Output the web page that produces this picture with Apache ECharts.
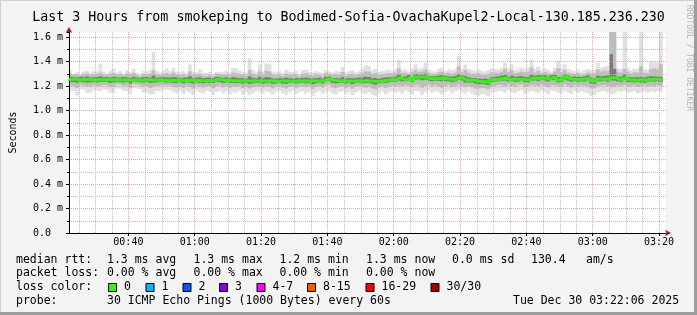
<!DOCTYPE html>
<html><head><meta charset="utf-8">
<script src="https://cdn.jsdelivr.net/npm/echarts@6/dist/echarts.min.js"></script>
<style>html,body{margin:0;padding:0;background:#f3f3f3}#c{width:697px;height:315px}</style>
</head><body><div id="c"></div><script>
// ---------- data (values in microseconds) ----------
const titleText = 'Last 3 Hours from smokeping to Bodimed-Sofia-OvachaKupel2-Local-130.185.236.230';
const axisMin = 22.1;   // 00:22:06 in minutes
const axisMax = 202.1;  // 03:22:06
const firstStep = 22;   // first one-minute sample
const median = [1256,1255,1252,1254,1253,1255,1252,1250,1253,1252,
 1251,1253,1250,1252,1251,1249,1252,1250,1248,1251,
 1250,1248,1250,1251,1249,1250,1247,1249,1248,1246,
 1247,1245,1248,1246,1244,1247,1245,1243,1246,1244,
 1242,1245,1243,1246,1256,1254,1246,1247,1245,1244,
 1243,1241,1244,1242,1240,1243,1241,1244,1242,1240,
 1243,1241,1239,1242,1240,1243,1241,1239,1242,1240,
 1243,1241,1244,1242,1240,1243,1241,1256,1258,1247,
 1244,1241,1243,1240,1242,1239,1241,1243,1240,1244,
 1242,1238,1236,1240,1243,1246,1249,1250,1254,1268,
 1256,1254,1268,1250,1272,1274,1273,1271,1261,1259,
 1260,1262,1263,1261,1255,1254,1256,1268,1266,1250,
 1248,1247,1246,1236,1234,1235,1227,1249,1254,1256,
 1262,1263,1254,1256,1255,1253,1255,1253,1249,1265,
 1264,1263,1265,1264,1255,1268,1267,1249,1250,1273,
 1262,1255,1256,1254,1255,1255,1265,1246,1240,1257,
 1256,1258,1257,1268,1267,1255,1254,1268,1252,1251,
 1248,1250,1249,1246,1255,1254,1256,1255,1254];
const pingMin = [1159,1160,1123,1173,1170,1145,1148,1165,1162,1155,
 1172,1170,1145,1143,1180,1178,1160,1158,1132,1182,
 1180,1176,1145,1148,1132,1135,1160,1158,1170,1168,
 1165,1150,1140,1158,1132,1160,1148,1125,1162,1150,
 1138,1160,1155,1128,1150,1162,1140,1158,1132,1150,
 1145,1160,1130,1150,1128,1142,1160,1150,1138,1155,
 1148,1130,1155,1160,1140,1128,1150,1162,1135,1150,
 1158,1140,1152,1120,1145,1160,1138,1150,1162,1140,
 1130,1152,1158,1135,1148,1125,1150,1160,1142,1135,
 1150,1128,1118,1140,1155,1132,1150,1160,1145,1158,
 1140,1162,1150,1135,1160,1155,1128,1150,1165,1145,
 1160,1150,1130,1148,1162,1140,1155,1165,1150,1138,
 1155,1140,1125,1120,1135,1128,1115,1145,1150,1160,
 1158,1145,1165,1150,1140,1158,1162,1135,1150,1160,
 1155,1145,1162,1150,1135,1160,1158,1148,1140,1165,
 1150,1135,1160,1145,1158,1150,1140,1120,1125,1150,
 1155,1160,1148,1135,1140,1158,1150,1162,1145,1150,
 1158,1140,1150,1160,1145,1155,1148,1160,1150];
const ping5 = [1205,1200,1185,1210,1205,1195,1198,1208,1200,1202,
 1210,1205,1192,1195,1215,1212,1200,1205,1185,1215,
 1212,1208,1195,1198,1185,1190,1200,1202,1208,1205,
 1205,1195,1188,1200,1185,1202,1195,1180,1205,1195,
 1188,1200,1198,1182,1200,1205,1190,1200,1185,1195,
 1192,1200,1182,1195,1180,1190,1200,1195,1188,1198,
 1195,1180,1198,1202,1188,1180,1195,1200,1185,1195,
 1200,1190,1198,1175,1192,1200,1188,1205,1210,1188,
 1182,1195,1200,1185,1195,1178,1195,1200,1190,1185,
 1195,1180,1172,1188,1198,1185,1195,1205,1195,1205,
 1195,1208,1200,1190,1210,1205,1185,1200,1210,1198,
 1208,1200,1185,1198,1210,1192,1202,1212,1200,1190,
 1200,1192,1180,1178,1185,1182,1172,1195,1200,1208,
 1208,1198,1212,1200,1192,1208,1210,1190,1200,1208,
 1205,1198,1210,1200,1190,1208,1205,1198,1192,1212,
 1200,1188,1208,1195,1205,1200,1195,1180,1182,1200,
 1205,1208,1198,1190,1195,1205,1200,1210,1195,1200,
 1205,1192,1200,1208,1195,1202,1198,1208,1200];
const ping10 = [1235,1232,1228,1236,1232,1230,1231,1233,1230,1234,
 1233,1235,1226,1230,1236,1231,1229,1232,1222,1236,
 1234,1230,1228,1232,1225,1228,1230,1233,1232,1228,
 1230,1226,1224,1230,1222,1230,1226,1220,1230,1226,
 1222,1228,1224,1226,1236,1234,1225,1230,1224,1226,
 1224,1226,1220,1225,1218,1222,1226,1225,1220,1224,
 1226,1218,1222,1228,1220,1218,1224,1226,1220,1224,
 1228,1222,1226,1215,1222,1228,1220,1238,1240,1226,
 1222,1225,1228,1220,1226,1216,1224,1228,1222,1224,
 1226,1218,1212,1222,1228,1226,1230,1235,1236,1245,
 1238,1240,1248,1232,1252,1255,1248,1252,1244,1240,
 1244,1242,1240,1242,1238,1232,1238,1250,1246,1230,
 1230,1228,1222,1215,1216,1214,1208,1230,1236,1240,
 1244,1245,1238,1240,1234,1236,1240,1232,1230,1246,
 1246,1242,1248,1245,1236,1250,1248,1230,1232,1254,
 1244,1236,1240,1235,1238,1236,1245,1222,1218,1238,
 1238,1242,1236,1246,1244,1238,1235,1250,1232,1234,
 1230,1234,1228,1226,1236,1238,1236,1240,1236];
const ping21 = [1275,1272,1270,1276,1272,1278,1270,1272,1274,1278,
 1270,1274,1268,1276,1270,1268,1275,1270,1266,1274,
 1270,1266,1272,1274,1268,1285,1268,1270,1272,1270,
 1268,1272,1270,1265,1266,1270,1280,1264,1268,1270,
 1262,1266,1268,1265,1275,1272,1266,1270,1265,1272,
 1268,1264,1266,1260,1278,1266,1262,1275,1265,1272,
 1270,1262,1260,1266,1262,1268,1264,1260,1266,1262,
 1266,1268,1265,1262,1264,1268,1260,1275,1276,1266,
 1265,1262,1272,1260,1266,1262,1264,1268,1270,1276,
 1274,1262,1265,1260,1266,1270,1272,1270,1276,1295,
 1275,1278,1290,1272,1298,1294,1295,1300,1282,1278,
 1280,1285,1288,1282,1278,1275,1280,1298,1285,1282,
 1270,1266,1265,1262,1258,1260,1255,1270,1275,1278,
 1285,1292,1276,1285,1275,1278,1280,1275,1272,1292,
 1285,1288,1286,1290,1276,1288,1292,1275,1272,1295,
 1285,1275,1278,1276,1274,1278,1286,1268,1262,1285,
 1278,1282,1285,1460,1340,1276,1275,1295,1274,1272,
 1270,1272,1275,1268,1276,1280,1278,1276,1275];
const ping26 = [1300,1290,1295,1285,1298,1302,1290,1295,1300,1310,
 1295,1288,1300,1305,1292,1298,1285,1302,1290,1308,
 1290,1282,1298,1295,1300,1330,1295,1290,1300,1305,
 1295,1310,1292,1288,1295,1285,1320,1292,1288,1300,
 1285,1282,1295,1280,1300,1298,1290,1298,1288,1310,
 1305,1298,1292,1285,1330,1300,1288,1320,1292,1325,
 1320,1292,1288,1295,1282,1300,1292,1288,1298,1280,
 1300,1305,1292,1285,1295,1290,1282,1305,1300,1290,
 1295,1290,1315,1285,1295,1300,1288,1295,1305,1320,
 1318,1300,1305,1290,1295,1300,1305,1300,1310,1345,
 1305,1310,1300,1315,1330,1315,1320,1335,1310,1300,
 1298,1312,1318,1302,1308,1300,1310,1360,1312,1330,
 1310,1300,1298,1305,1292,1290,1300,1312,1310,1305,
 1318,1340,1315,1330,1305,1310,1318,1310,1318,1350,
 1310,1325,1305,1315,1305,1300,1318,1345,1312,1330,
 1310,1300,1298,1305,1292,1300,1310,1302,1305,1335,
 1318,1325,1320,1800,1800,1318,1310,1340,1318,1300,
 1312,1310,1360,1308,1305,1340,1345,1335,1380];
const pingMax = [1327,1300,1315,1295,1318,1327,1310,1322,1322,1382,
 1318,1305,1327,1344,1312,1322,1300,1330,1312,1341,
 1309,1295,1322,1318,1327,1480,1322,1312,1330,1344,
 1322,1349,1318,1312,1322,1305,1377,1318,1312,1335,
 1309,1305,1318,1295,1315,1318,1312,1325,1310,1349,
 1345,1327,1318,1310,1430,1330,1312,1377,1318,1385,
 1380,1318,1312,1322,1305,1330,1318,1312,1325,1300,
 1330,1335,1318,1310,1322,1312,1305,1330,1318,1312,
 1322,1318,1355,1310,1322,1330,1312,1322,1340,1370,
 1365,1330,1340,1318,1322,1330,1335,1322,1340,1417,
 1330,1335,1318,1345,1377,1340,1349,1390,1335,1322,
 1318,1340,1349,1325,1335,1330,1340,1444,1340,1377,
 1340,1330,1325,1335,1322,1318,1330,1345,1340,1335,
 1350,1390,1345,1377,1330,1340,1349,1340,1350,1420,
 1340,1360,1330,1345,1335,1318,1349,1404,1345,1377,
 1340,1330,1322,1335,1318,1330,1340,1330,1335,1390,
 1349,1360,1360,1800,1800,1349,1340,1800,1349,1330,
 1345,1340,1800,1340,1335,1404,1404,1395,1800];

const yMax = 1641;
const lossLabels = ['0', '1', '2', '3', '4-7', '8-15', '16-29', '30/30'];
const lossColors = ['#26ff00', '#00b8ff', '#0059ff', '#7e00ff', '#ff00ff', '#ff5500', '#ff0000', '#a10000'];
const rttStats = ['median rtt:', '1.3 ms avg', '1.3 ms max', '1.2 ms min', '1.3 ms now', '0.0 ms sd', '130.4', 'am/s'];
const lossStats = ['packet loss:', '0.00 % avg', '0.00 % max', '0.00 % min', '0.00 % now'];
const probeText = ['probe:', '30 ICMP Echo Pings (1000 Bytes) every 60s', 'Tue Dec 30 03:22:06 2025'];
const lossTitle = 'loss color:';
const sideText = 'RRDTOOL / TOBI OETIKER';

// ---------- layout ----------
const MONO = '"DejaVu Sans Mono", monospace';
const colX = [16, 107, 193.5, 279.5, 366, 452, 531, 586];
const rowY = [260, 273.5, 287.5, 301];
const boxX = [108, 145.5, 182.5, 219, 256.5, 307, 365.5, 430.5];
const probeX = [16, 107, 513];
const minorGrid = '#bcbcbc';
// minor vertical grid: every 5 minutes (skipping the 20-minute major lines)
const minorMinutes = [];
for (let m = Math.ceil(axisMin / 5) * 5; m < axisMax; m += 5) if (m % 20 !== 0) minorMinutes.push(m);

function band(name, lo, hi, color) {
  return {
    type: 'custom', name: name, z: 1, silent: true,
    data: lo.map((v, i) => [firstStep + i, v, hi[i]]),
    renderItem: function (params, api) {
      const t = api.value(0);
      const a = api.coord([t, api.value(1)]);
      const b = api.coord([t + 1, api.value(2)]);
      const cs = params.coordSys;
      const r = echarts.graphic.clipRectByRect(
        {x: a[0], y: b[1], width: b[0] - a[0] + 0.4, height: a[1] - b[1]},
        {x: cs.x, y: cs.y, width: cs.width, height: cs.height});
      if (!r) return null;
      return {type: 'rect', shape: r, style: {fill: color}};
    }
  };
}

// minor vertical grid lines, positioned through the x scale; drawn as 1px dots
const minorGridSeries = {
  type: 'custom', name: 'minor-grid', z: 2, silent: true,
  data: minorMinutes.map(m => [m, 0]),
  renderItem: function (params, api) {
    const cs = params.coordSys;
    const x = Math.round(api.coord([api.value(0), 0])[0]);
    const dots = [];
    for (let y = Math.ceil(cs.y); y < cs.y + cs.height; y += 2) {
      dots.push({type: 'rect', shape: {x: x, y: y, width: 1, height: 1}, style: {fill: minorGrid}});
    }
    return {type: 'group', children: dots};
  }
};

const medianData = median.map((v, i) => [firstStep + i, v]);
medianData.push([firstStep + median.length, median[median.length - 1]]);

const graphics = [];
graphics.push({type: 'rect', shape: {x: 0, y: 0, width: 697, height: 1}, style: {fill: '#cfcfcf'}, silent: true});
graphics.push({type: 'rect', shape: {x: 0, y: 0, width: 1, height: 315}, style: {fill: '#cfcfcf'}, silent: true});
graphics.push({type: 'rect', shape: {x: 694, y: 0, width: 3, height: 315}, style: {fill: '#9d9d9d'}, silent: true});
graphics.push({type: 'rect', shape: {x: 0, y: 312, width: 697, height: 3}, style: {fill: '#9d9d9d'}, silent: true});
function txt(s, x, y) {
  return {type: 'text', x: x, y: y, silent: true,
    style: {text: s, font: '11.5px ' + MONO, fill: '#000', align: 'left', verticalAlign: 'middle'}};
}
rttStats.forEach((s, i) => graphics.push(txt(s, colX[i], rowY[0])));
lossStats.forEach((s, i) => graphics.push(txt(s, colX[i], rowY[1])));
graphics.push(txt(lossTitle, 16, rowY[2]));
lossLabels.forEach((s, i) => {
  graphics.push({type: 'rect', silent: true, shape: {x: boxX[i] + 0.5, y: 283.5, width: 8, height: 8},
    style: {fill: lossColors[i], stroke: '#000', lineWidth: 1}});
  graphics.push(txt(s, boxX[i] + 16, rowY[2]));
});
probeText.forEach((s, i) => graphics.push(txt(s, probeX[i], rowY[3])));
graphics.push({type: 'text', x: 689, y: 5, rotation: -Math.PI / 2, silent: true,
  style: {text: sideText, font: '8px ' + MONO, fill: '#b4b4b4', align: 'left', verticalAlign: 'middle'}});

function hhmm(v) {
  const h = Math.floor(v / 60), m = Math.round(v % 60);
  return String(h).padStart(2, '0') + ':' + String(m).padStart(2, '0');
}

const chart = echarts.init(document.getElementById('c'), null, {renderer: 'canvas'});
chart.setOption({
  animation: false,
  backgroundColor: '#f3f3f3',
  title: {text: titleText, left: 'center', top: 6,
    textStyle: {fontFamily: MONO, fontSize: 13.3, fontWeight: 'normal', color: '#000'}},
  grid: {left: 66, top: 32, width: 600, height: 201, show: true, backgroundColor: '#ffffff', borderWidth: 0},
  xAxis: [{
    type: 'value', min: axisMin, max: axisMax, splitNumber: 9, minInterval: 20, maxInterval: 20, z: 3,
    axisLine: {lineStyle: {color: '#000', width: 1}},
    axisTick: {length: 3, lineStyle: {color: '#000'}},
    axisLabel: {formatter: hhmm, fontFamily: MONO, fontSize: 10, color: '#000', margin: 4,
      showMinLabel: false, showMaxLabel: false},
    splitLine: {show: true, showMinLine: false, showMaxLine: false, lineStyle: {color: '#e6a2a2', type: [1, 1]}}
  }, {
    type: 'value', min: axisMin, max: axisMax, position: 'bottom', z: 2,
    axisLine: {lineStyle: {color: '#9e1b1b', width: 1}, symbol: ['none', 'arrow'], symbolSize: [5, 6], symbolOffset: [0, 5]},
    axisTick: {show: false}, axisLabel: {show: false}, splitLine: {show: false}
  }],
  yAxis: [{
    type: 'value', min: 0, max: yMax, interval: 200, z: 3,
    name: 'Seconds', nameLocation: 'middle', nameRotate: 90, nameGap: 51,
    nameTextStyle: {fontFamily: MONO, fontSize: 10, color: '#000'},
    axisLine: {show: true, lineStyle: {color: '#000', width: 1}},
    axisTick: {show: true, length: 3, lineStyle: {color: '#000'}},
    axisLabel: {formatter: v => v === 0 ? '0.0' : (v / 1000).toFixed(1) + ' m',
      fontFamily: MONO, fontSize: 10, color: '#000', align: 'left', margin: 36, showMaxLabel: false},
    splitLine: {show: true, showMinLine: false, showMaxLine: false, lineStyle: {color: '#e6a2a2', type: [1, 1]}}
  }, {
    type: 'value', min: 0, max: yMax, interval: 100, position: 'left', z: 2,
    axisLine: {show: true, lineStyle: {color: '#9e1b1b', width: 1}, symbol: ['none', 'arrow'], symbolSize: [5, 6], symbolOffset: [0, 5]},
    axisTick: {show: true, length: 2, lineStyle: {color: '#000'}},
    axisLabel: {show: false},
    splitLine: {show: true, showMinLine: false, showMaxLine: false, lineStyle: {color: minorGrid, type: [1, 1]}}
  }],
  series: [
    band('min-max', pingMin, pingMax, '#e0e0e0'),
    band('p5-p26', ping5, ping26, '#bdbdbd'),
    band('p10-p21', ping10, ping21, '#7a7a7a'),
    minorGridSeries,
    {type: 'line', name: 'median rtt', step: 'end', data: medianData, z: 6, symbol: 'none',
      lineStyle: {color: '#26ff00', width: 3}, silent: true}
  ],
  graphic: graphics
});
</script></body></html>
